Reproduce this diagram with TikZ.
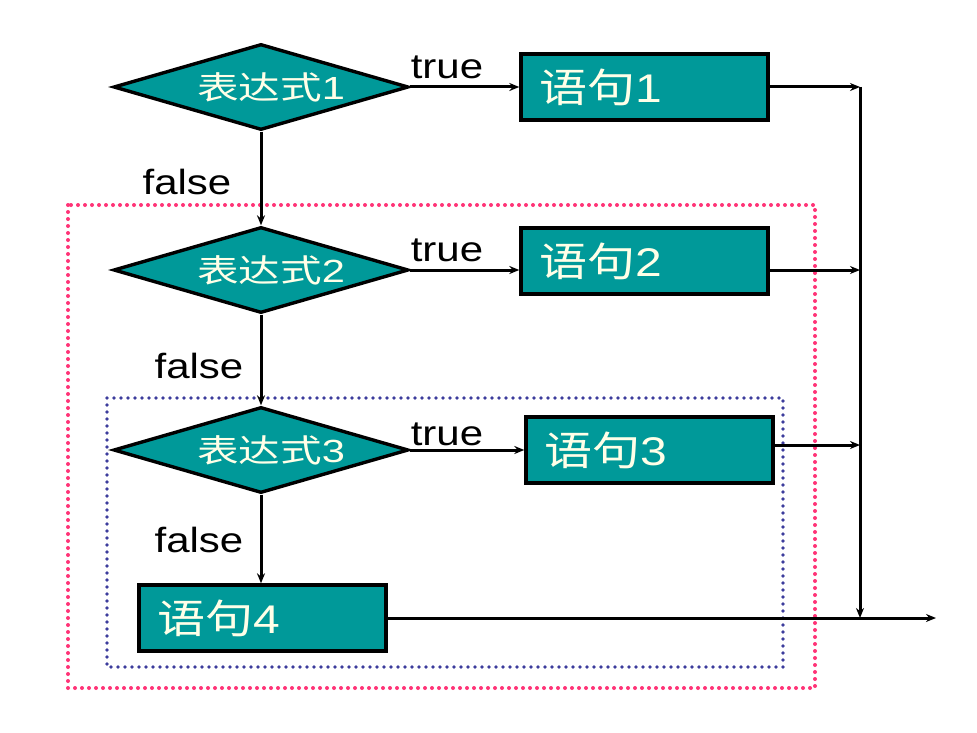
\documentclass[tikz,border=0pt]{standalone}
\usepackage{fontspec}
\setmainfont{Liberation Sans}[FakeStretch=1.2]
\newfontfamily\cjkd{Noto Sans CJK SC}[FakeStretch=1.3]
\newfontfamily\latd{Liberation Sans}[FakeStretch=1.3]
\newfontfamily\cjkb{Noto Sans CJK SC}[FakeStretch=1.2]
\newfontfamily\latb{Liberation Sans}[FakeStretch=1.2]
\usetikzlibrary{shapes.geometric,arrows.meta}
\definecolor{tealfill}{HTML}{009999}
\definecolor{txtcream}{HTML}{FFFFE8}
\definecolor{pinkdot}{HTML}{FF3377}
\definecolor{bluedot}{HTML}{3C3C9C}
\newcommand{\dtext}[1]{\kern20pt{\cjkd 表达式}{\latd #1}}
\newcommand{\btext}[1]{{\cjkb 语句}{\latb #1}}
\tikzset{
  cond/.style={diamond, aspect=3.43, draw=black, line width=3.4pt, fill=tealfill, minimum width=295pt, minimum height=86pt, inner sep=0pt, text=txtcream, font=\fontsize{32}{32}\selectfont},
  stmt/.style={rectangle, draw=black, line width=3.4pt, fill=tealfill, minimum width=247pt, minimum height=66pt, inner xsep=18pt, text width=211pt, align=left, text=txtcream, font=\fontsize{40}{40}\selectfont},
  conn/.style={line width=3pt, -{Stealth[length=10pt,width=8pt]}},
  lbl/.style={font=\fontsize{35}{35}\selectfont, text=black, inner sep=0pt},
  pinkbox/.style={draw=pinkdot, line width=4pt, dash pattern=on 0pt off 7pt, line cap=round},
  bluebox/.style={draw=bluedot, line width=3.6pt, dash pattern=on 0pt off 7pt, line cap=round}
}
\begin{document}
\begin{tikzpicture}[x=1pt,y=-1pt]
\useasboundingbox[fill=white] (0,0) rectangle (977,733);
% dotted frames
\draw[pinkbox] (68,205) rectangle (815,688);
\draw[bluebox] (107,398) rectangle (783,667);
% decisions
\node[cond] (d1) at (261,87) {\dtext{1}};
\node[cond] (d2) at (261,270) {\dtext{2}};
\node[cond] (d3) at (261,450) {\dtext{3}};
% statements
\node[stmt] (s1) at (644.5,87) {\btext{1}};
\node[stmt] (s2) at (644.5,261) {\btext{2}};
\node[stmt] (s3) at (649.5,450) {\btext{3}};
\node[stmt] (s4) at (262.5,618) {\btext{4}};
% collector line
\coordinate (v1) at (860,87);
\coordinate (v2) at (860,270);
\coordinate (v3) at (860,445);
\coordinate (vb) at (860,618);
\coordinate (out) at (936,618);
% connectors
\draw[conn] (d1.south) -- (d2.north);
\draw[conn] (d2.south) -- (d3.north);
\draw[conn] (d3.south) -- (d3.south |- s4.north);
\draw[conn] (d1.east) -- (s1.west);
\draw[conn] (d2.east) -- (s2.west |- d2.east);
\draw[conn] (d3.east) -- (s3.west);
\draw[conn] (s1.east) -- (v1);
\draw[conn] (s2.east |- v2) -- (v2);
\draw[conn] (s3.east |- v3) -- (v3);
\draw[conn] (v1) -- (vb);
\draw[conn] (s4.east) -- (out);
% labels
\node[lbl] (t1) at (447,67) {true};
\node[lbl] (t2) at (447,250) {true};
\node[lbl] (t3) at (447,434) {true};
\node[lbl] (f1) at (187,182) {false};
\node[lbl] (f2) at (199,366) {false};
\node[lbl] (f3) at (199,540) {false};
\end{tikzpicture}
\end{document}
